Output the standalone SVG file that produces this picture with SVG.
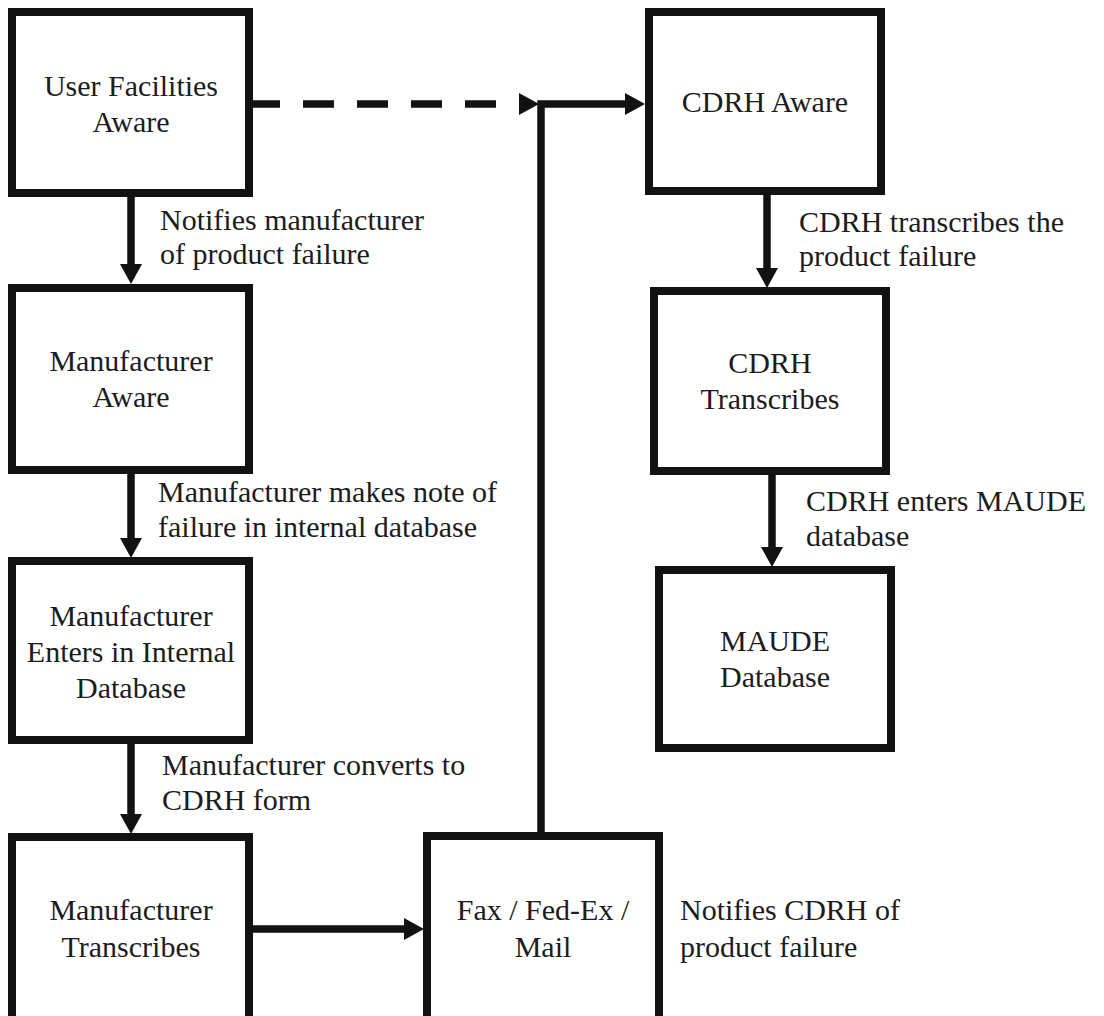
<svg xmlns="http://www.w3.org/2000/svg" width="1104" height="1016" viewBox="0 0 1104 1016">
  <defs>
    <marker id="ah" markerUnits="userSpaceOnUse" markerWidth="20" markerHeight="22" refX="0" refY="11" orient="auto">
      <path d="M0,0 L20,11 L0,22 Z" fill="#121212"/>
    </marker>
    <style>
      .box { fill: #ffffff; stroke: #121212; stroke-width: 8; }
      .t { font-family: "Liberation Serif", "Times New Roman", serif; font-size: 30px; fill: #1c1c1c; }
      .c { text-anchor: middle; }
      .ln { stroke: #121212; stroke-width: 7.5; fill: none; }
      .dash { stroke-dasharray: 31 23; }
    </style>
  </defs>
  <rect width="1104" height="1016" fill="#ffffff"/>

  <g id="connectors">
    <line class="ln" x1="131" y1="197" x2="131" y2="264" marker-end="url(#ah)"/>
    <line class="ln" x1="131" y1="474" x2="131" y2="538" marker-end="url(#ah)"/>
    <line class="ln" x1="131" y1="744" x2="131" y2="814" marker-end="url(#ah)"/>
    <line class="ln" x1="253" y1="929" x2="404" y2="929" marker-end="url(#ah)"/>
    <line class="ln dash" x1="249" y1="104" x2="519" y2="104" marker-end="url(#ah)"/>
    <polyline class="ln" points="541,833 541,104 625,104" marker-end="url(#ah)"/>
    <line class="ln" x1="767" y1="195" x2="767" y2="268" marker-end="url(#ah)"/>
    <line class="ln" x1="772" y1="475" x2="772" y2="547" marker-end="url(#ah)"/>
  </g>

  <g id="node-user-facilities">
    <rect class="box" x="12" y="12" width="237" height="181"/>
    <text class="t c" x="131" y="96">User Facilities</text>
    <text class="t c" x="131" y="132">Aware</text>
  </g>
  <g id="node-manufacturer-aware">
    <rect class="box" x="12" y="288" width="237" height="182"/>
    <text class="t c" x="131" y="371">Manufacturer</text>
    <text class="t c" x="131" y="407">Aware</text>
  </g>
  <g id="node-manufacturer-enters">
    <rect class="box" x="12" y="561" width="237" height="179"/>
    <text class="t c" x="131" y="626">Manufacturer</text>
    <text class="t c" x="131" y="662">Enters in Internal</text>
    <text class="t c" x="131" y="698">Database</text>
  </g>
  <g id="node-manufacturer-transcribes">
    <rect class="box" x="12" y="837" width="237" height="220"/>
    <text class="t c" x="131" y="920">Manufacturer</text>
    <text class="t c" x="131" y="957">Transcribes</text>
  </g>
  <g id="node-fax">
    <rect class="box" x="427" y="836" width="232" height="220"/>
    <text class="t c" x="543" y="920">Fax / Fed-Ex /</text>
    <text class="t c" x="543" y="957">Mail</text>
  </g>
  <g id="node-cdrh-aware">
    <rect class="box" x="649" y="12" width="232" height="179"/>
    <text class="t c" x="765" y="112">CDRH Aware</text>
  </g>
  <g id="node-cdrh-transcribes">
    <rect class="box" x="654" y="291" width="232" height="180"/>
    <text class="t c" x="770" y="373">CDRH</text>
    <text class="t c" x="770" y="409">Transcribes</text>
  </g>
  <g id="node-maude">
    <rect class="box" x="659" y="570" width="232" height="178"/>
    <text class="t c" x="775" y="651">MAUDE</text>
    <text class="t c" x="775" y="687">Database</text>
  </g>

  <g id="labels">
    <text class="t" x="160" y="230">Notifies manufacturer</text>
    <text class="t" x="160" y="264">of product failure</text>
    <text class="t" x="158" y="502">Manufacturer makes note of</text>
    <text class="t" x="158" y="537">failure in internal database</text>
    <text class="t" x="162" y="775">Manufacturer converts to</text>
    <text class="t" x="162" y="810">CDRH form</text>
    <text class="t" x="680" y="920">Notifies CDRH of</text>
    <text class="t" x="680" y="957">product failure</text>
    <text class="t" x="799" y="232">CDRH transcribes the</text>
    <text class="t" x="799" y="266">product failure</text>
    <text class="t" x="806" y="511">CDRH enters MAUDE</text>
    <text class="t" x="806" y="546">database</text>
  </g>
</svg>
